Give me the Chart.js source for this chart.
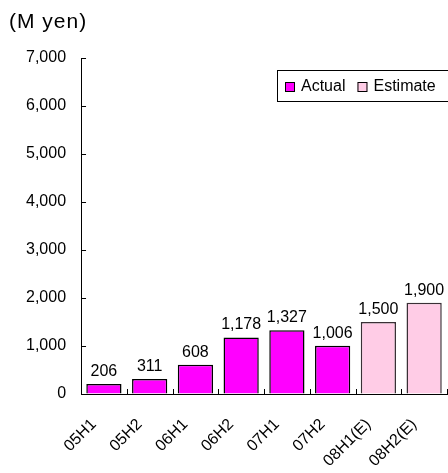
<!DOCTYPE html>
<html>
<head>
<meta charset="utf-8">
<script src="https://cdn.jsdelivr.net/npm/chart.js@4/dist/chart.umd.min.js"></script>
<style>
  html, body { margin: 0; padding: 0; background: #fff; }
  #wrap { width: 448px; height: 473px; position: relative; }
</style>
</head>
<body>
<div id="wrap"><canvas id="c" width="448" height="473"></canvas></div>
<script>
// Half-year sales, million yen
const categories = ['05H1', '05H2', '06H1', '06H2', '07H1', '07H2', '08H1(E)', '08H2(E)'];
const actualValues = [206, 311, 608, 1178, 1327, 1006, null, null];
const estimateValues = [null, null, null, null, null, null, 1500, 1900];
const seriesNames = ['Actual', 'Estimate'];
const yTicks = [0, 1000, 2000, 3000, 4000, 5000, 6000, 7000];
const unitLabel = '(M yen)';

const FONT = '"Liberation Sans", Arial, sans-serif';
const ACTUAL_FILL = '#ff00ff';
const ESTIMATE_FILL = '#ffcce6';

const fmt = v => v.toLocaleString('en-US');

// Tick marks drawn on the inner side of both axes
const innerTicks = {
  id: 'innerTicks',
  afterDatasetsDraw(chart) {
    const { ctx, chartArea, scales } = chart;
    ctx.save();
    ctx.strokeStyle = '#000';
    ctx.lineWidth = 1;
    ctx.beginPath();
    yTicks.forEach(v => {
      const y = Math.round(scales.y.getPixelForValue(v)) + 0.5;
      ctx.moveTo(chartArea.left, y);
      ctx.lineTo(chartArea.left + 5, y);
    });
    for (let i = 0; i <= categories.length; i++) {
      const x = Math.round(scales.x.getPixelForValue(i - 0.5)) + 0.5;
      ctx.moveTo(x, chartArea.bottom);
      ctx.lineTo(x, chartArea.bottom - 5);
    }
    ctx.stroke();
    ctx.restore();
  }
};

// Value labels above each bar
const valueLabels = {
  id: 'valueLabels',
  afterDatasetsDraw(chart) {
    const { ctx } = chart;
    ctx.save();
    ctx.font = '16px ' + FONT;
    ctx.fillStyle = '#000';
    ctx.textAlign = 'center';
    ctx.textBaseline = 'alphabetic';
    chart.data.datasets.forEach((ds, di) => {
      const meta = chart.getDatasetMeta(di);
      meta.data.forEach((bar, i) => {
        const v = ds.data[i];
        if (v == null) return;
        ctx.fillText(fmt(v), bar.x, bar.y - 8);
      });
    });
    ctx.restore();
  }
};

// Unit caption and boxed legend
const decorations = {
  id: 'decorations',
  afterDraw(chart) {
    const { ctx } = chart;
    ctx.save();
    ctx.fillStyle = '#000';
    ctx.font = '21px ' + FONT;
    ctx.textBaseline = 'middle';
    ctx.textAlign = 'left';
    if ('letterSpacing' in ctx) ctx.letterSpacing = '1px';
    ctx.fillText(unitLabel, 9, 22);
    if ('letterSpacing' in ctx) ctx.letterSpacing = '0px';

    // legend box
    ctx.fillStyle = '#fff';
    ctx.fillRect(278, 71, 172, 30);
    ctx.strokeStyle = '#000';
    ctx.lineWidth = 1;
    ctx.strokeRect(277.5, 70.5, 180, 31);

    ctx.font = '16px ' + FONT;
    let x = 285;
    chart.data.datasets.forEach((ds) => {
      ctx.fillStyle = ds.backgroundColor;
      ctx.fillRect(x, 82, 10, 10);
      ctx.strokeStyle = '#000';
      ctx.strokeRect(x + 0.5, 82.5, 9, 9);
      ctx.fillStyle = '#000';
      ctx.fillText(ds.label, x + 16, 87);
      x += 16 + ctx.measureText(ds.label).width + 12;
    });
    ctx.restore();
  }
};

new Chart(document.getElementById('c'), {
  type: 'bar',
  data: {
    labels: categories,
    datasets: [
      {
        label: seriesNames[0],
        data: actualValues,
        backgroundColor: ACTUAL_FILL,
        borderColor: '#000',
        borderWidth: 1.5,
        grouped: false,
        barPercentage: 0.77,
        categoryPercentage: 1
      },
      {
        label: seriesNames[1],
        data: estimateValues,
        backgroundColor: ESTIMATE_FILL,
        borderColor: '#3a3036',
        borderWidth: 1.5,
        grouped: false,
        barPercentage: 0.77,
        categoryPercentage: 1
      }
    ]
  },
  options: {
    responsive: false,
    animation: false,
    devicePixelRatio: 1,
    layout: { padding: { top: 58, left: 11, right: 1, bottom: 0 } },
    plugins: {
      legend: { display: false },
      tooltip: { enabled: false },
      title: { display: false }
    },
    scales: {
      x: {
        grid: { display: true, drawOnChartArea: false, drawTicks: false },
        border: { display: true, color: '#000', width: 1 },
        afterFit(scale) {
          // rotated labels are allowed to run under the neighbouring space
          scale.paddingLeft = 0;
          scale.paddingRight = 0;
          scale.height = 79;
        },
        ticks: {
          color: '#000',
          font: { family: FONT, size: 16 },
          minRotation: 45,
          maxRotation: 45,
          padding: 21,
          labelOffset: -10,
          autoSkip: false
        }
      },
      y: {
        min: 0,
        max: 7000,
        afterBuildTicks(scale) { scale.ticks = yTicks.map(v => ({ value: v })); },
        grid: { display: true, drawOnChartArea: false, drawTicks: false },
        border: { display: true, color: '#000', width: 1 },
        ticks: {
          color: '#000',
          font: { family: FONT, size: 16 },
          padding: 15,
          callback: v => fmt(v)
        }
      }
    }
  },
  plugins: [innerTicks, valueLabels, decorations]
});
</script>
</body>
</html>
